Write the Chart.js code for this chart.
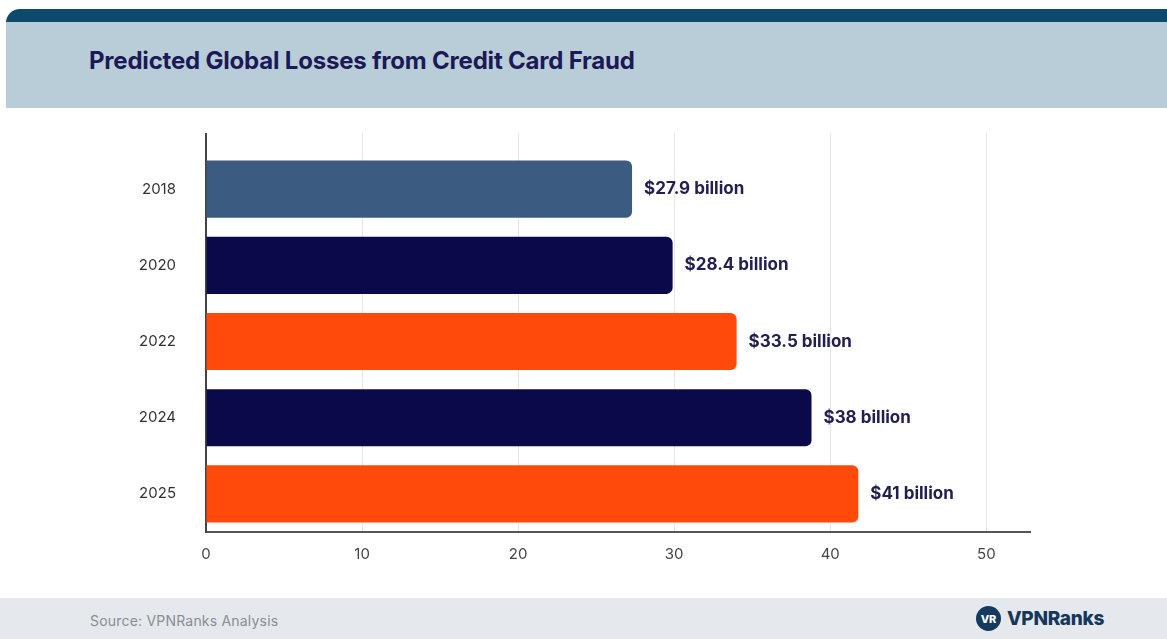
<!DOCTYPE html>
<html>
<head>
<meta charset="utf-8">
<script src="https://cdn.jsdelivr.net/npm/chart.js@4"></script>
<style>
  body{margin:0;width:1167px;height:639px;background:#fff;font-family:Inter,"Noto Sans",sans-serif;position:relative;overflow:hidden}
  .topbar{position:absolute;left:6px;top:9px;right:0;height:14px;background:#0e4a6c;border-top-left-radius:14px}
  .header{position:absolute;left:6px;top:22px;right:0;height:86px;background:#b9cdd8}
  .header h1{margin:0;position:absolute;left:83px;top:24px;font-size:24px;font-weight:700;color:#1b1a57;letter-spacing:-0.2px}
  .footer{position:absolute;left:0;right:0;top:598px;bottom:0;background:#e5e9ee}
  .source{position:absolute;left:90px;top:14px;font-size:14px;color:#8a8d92;letter-spacing:0.2px}
  .logo{position:absolute;left:976px;top:8px;display:flex;align-items:center;gap:6px}
  .logo .dot{width:25px;height:25px;border-radius:50%;background:#143a5e;color:#fff;font-size:11px;font-weight:800;display:flex;align-items:center;justify-content:center}
  .logo span{font-size:19px;font-weight:800;color:#16375b;letter-spacing:-0.3px}
  #chart{position:absolute;left:0;top:110px}
</style>
</head>
<body>
<div class="topbar"></div>
<div class="header"><h1>Predicted Global Losses from Credit Card Fraud</h1></div>
<canvas id="chart" width="1167" height="488"></canvas>
<div class="footer">
  <div class="source">Source: VPNRanks Analysis</div>
  <div class="logo"><div class="dot">VR</div><span>VPNRanks</span></div>
</div>
<script>
const years=["2018","2020","2022","2024","2025"];
// bar lengths as drawn in the picture (billion USD)
const losses=[27.3,29.9,34.0,38.8,41.8];
const valueLabels=["$27.9 billion","$28.4 billion","$33.5 billion","$38 billion","$41 billion"];
const barColors=["#3b5b80","#0a0a4b","#ff4a0c","#0a0a4b","#ff4a0c"];
const xTicks=[0,10,20,30,40,50];

/* labels next to bars + lines above the plot */
const extras={
  id:"extras",
  beforeDatasetsDraw(chart){
    const ctx=chart.ctx;
    const area=chart.chartArea;
    const x=chart.scales.x;
    ctx.save();
    ctx.lineWidth=1;
    ctx.strokeStyle="#e6e6e6";
    xTicks.slice(1).forEach(v=>{
      const px=Math.round(x.getPixelForValue(v))+0.5;
      ctx.beginPath();ctx.moveTo(px,area.top-18);ctx.lineTo(px,area.top);ctx.stroke();
    });
    ctx.lineWidth=2;
    ctx.strokeStyle="#444";
    ctx.beginPath();ctx.moveTo(area.left,area.top-18);ctx.lineTo(area.left,area.top);ctx.stroke();
    ctx.restore();
  },
  afterDatasetsDraw(chart){
    const ctx=chart.ctx;
    ctx.save();
    ctx.font="700 17px Inter";
    ctx.fillStyle="#22204f";
    ctx.textBaseline="middle";
    chart.getDatasetMeta(0).data.forEach((bar,i)=>{
      ctx.fillText(valueLabels[i],bar.x+12,bar.y);
    });
    ctx.restore();
  }
};

new Chart(document.getElementById("chart"),{
  type:"bar",
  data:{
    labels:years,
    datasets:[{
      data:losses,
      backgroundColor:barColors,
      borderRadius:6,
      borderSkipped:"start",
      barPercentage:0.75,
      categoryPercentage:1
    }]
  },
  options:{
    indexAxis:"y",
    responsive:false,
    animation:false,
    layout:{padding:{top:41,right:137,bottom:26,left:0}},
    plugins:{legend:{display:false},tooltip:{enabled:false}},
    scales:{
      x:{
        min:0,
        max:52.8,
        afterBuildTicks:s=>{s.ticks=xTicks.map(v=>({value:v}));},
        afterFit:s=>{s.height=40;},
        grid:{color:c=>c.tick&&c.tick.value===0?"rgba(0,0,0,0)":"#e6e6e6",drawTicks:false},
        border:{color:"#555",width:2},
        ticks:{padding:13,color:"#444",font:{family:"Inter",size:15}}
      },
      y:{
        afterFit:s=>{s.width=206;},
        grid:{display:false},
        border:{color:"#444",width:2},
        ticks:{padding:22,color:"#333",font:{family:"Inter",size:15}}
      }
    }
  },
  plugins:[extras]
});
</script>
</body>
</html>
